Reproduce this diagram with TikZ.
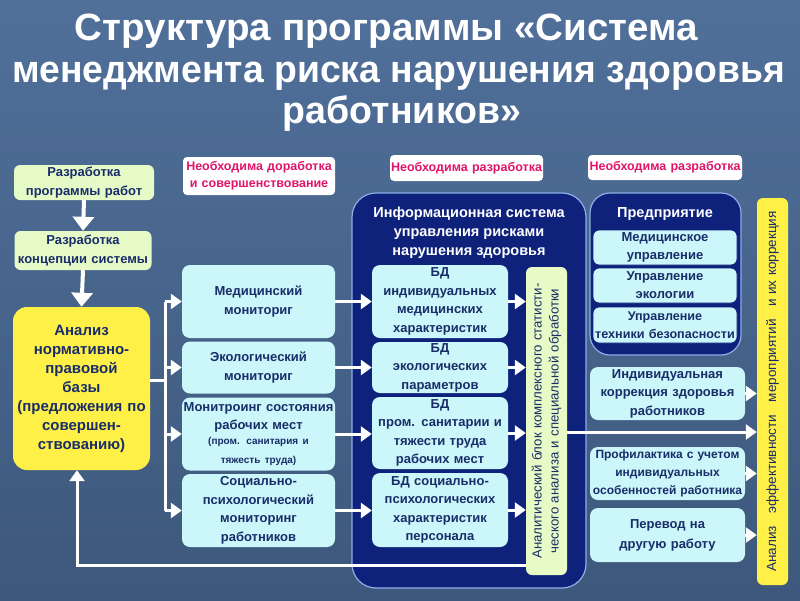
\documentclass[tikz,border=0pt]{standalone}
\usepackage{fontspec}
\setmainfont{Liberation Sans}
\usetikzlibrary{arrows.meta}
\definecolor{bgtop}{RGB}{80,112,154}
\definecolor{bgbot}{RGB}{62,88,124}
\definecolor{txt}{RGB}{25,45,105}
\definecolor{pinktxt}{RGB}{225,20,105}
\definecolor{cyanf}{RGB}{203,246,250}
\definecolor{greenf}{RGB}{230,250,200}
\definecolor{yellowf}{RGB}{255,240,72}
\definecolor{navyf}{RGB}{14,34,124}
\definecolor{navyl}{RGB}{140,175,230}
\definecolor{anf}{RGB}{232,250,198}
\newcommand\fitw[2]{\resizebox{#1}{\height}{#2}}
\newcommand\fs[2]{\fontsize{#1}{#2}\selectfont}
\begin{document}
\begin{tikzpicture}[x=1pt,y=-1pt,
  sz/.style 2 args={minimum width=#1pt, minimum height=#2pt, text width=#1pt, inner xsep=0pt, inner ysep=0pt, align=center},
  ttl/.style={font=\fs{38}{44}\bfseries, text=white, inner sep=0pt},
  lbl/.style={fill=white, text=pinktxt, rounded corners=4pt, font=\fs{12.5}{17}\bfseries},
  greenbox/.style={fill=greenf, text=txt, rounded corners=6pt, font=\fs{13}{18.5}\bfseries},
  yellowbox/.style={fill=yellowf, text=txt, rounded corners=14pt, font=\fs{15}{19}\bfseries},
  cyanbox/.style={fill=cyanf, text=txt, rounded corners=8pt, font=\fs{13}{18.5}\bfseries},
  subbox/.style={fill=cyanf, draw=navyf, line width=0.8pt, text=txt, rounded corners=6pt, font=\fs{13}{18}\bfseries},
  navybox/.style={fill=navyf, draw=navyl, line width=1.2pt, rounded corners=24pt},
  navytitle/.style={text=white, font=\fs{14.5}{19}\bfseries, align=center, inner sep=0pt},
  anbox/.style={fill=anf, rounded corners=6pt, text=txt, font=\fs{13.2}{17}},
  effbox/.style={fill=yellowf, rounded corners=6pt, text=txt, font=\fs{13.5}{16}},
  wline/.style={draw=white, line width=3pt},
  warr/.style={draw=white, line width=3pt, -{Triangle[length=11pt,width=15pt]}},
  bigarr/.style={draw=white, line width=4pt, -{Triangle[length=14pt,width=21pt]}}
]
\useasboundingbox (0,0) rectangle (800,600);
\fill[top color=bgtop, bottom color=bgbot] (0,0) rectangle (800,600);

% title
\node[ttl, anchor=base] (t1) at (386.5,40) {\fitw{623pt}{Структура программы «Система}};
\node[ttl, anchor=base] (t2) at (398.5,82) {\fitw{773pt}{менеджмента риска нарушения здоровья}};
\node[ttl, anchor=base] (t3) at (402,123) {\fitw{238pt}{работников»}};

% labels
\node[lbl, sz={152}{38}] (lab1) at (259,176) {Необходима доработка\\и совершенствование};
\node[lbl, sz={153}{26}] (lab2) at (466.5,168) {Необходима разработка};
\node[lbl, sz={154}{25}] (lab3) at (665,167.5) {Необходима разработка};

% left column
\node[greenbox, sz={140}{35}] (prog) at (84,182.5) {Разработка\\программы работ};
\node[greenbox, sz={137}{39}] (conc) at (83,250.5) {Разработка\\концепции системы};
\node[yellowbox, sz={137}{163}] (anal) at (81.5,388.5) {Анализ\\нормативно-\\правовой\\базы\\(предложения по\\совершен-\\ствованию)};

% monitoring
\node[cyanbox, sz={153}{73}] (mon1) at (258.5,301.5) {Медицинский\\мониториг};
\node[cyanbox, sz={153}{52}] (mon2) at (258.5,367.5) {Экологический\\мониториг};
\node[cyanbox, sz={153}{73}] (mon3) at (258.5,434) {Монитроинг состояния\\рабочих мест\\{\fs{10}{15}(пром. санитария и\\тяжесть труда)}};
\node[cyanbox, sz={153}{73}] (mon4) at (258.5,510.5) {Социально-\\психологический\\мониторинг\\работников};

% information system
\node[navybox, minimum width=234pt, minimum height=395pt, inner sep=0pt] (info) at (469,390.5) {};
\node[navytitle] (infot) at (469,233) {Информационная система\\управления рисками\\нарушения здоровья};
\node[cyanbox, sz={136}{73}] (bd1) at (440,301.5) {БД\\индивидуальных\\медицинских\\характеристик};
\node[cyanbox, sz={136}{51}] (bd2) at (440,367.5) {БД\\экологических\\параметров};
\node[cyanbox, sz={136}{72}] (bd3) at (440,433) {БД\\пром. санитарии и\\тяжести труда\\рабочих мест};
\node[cyanbox, sz={136}{74}] (bd4) at (440,510) {БД социально-\\психологических\\характеристик\\персонала};
\node[anbox, rotate=90, sz={308}{41}] (an) at (546.5,421) {Аналитический блок комплексного статисти-\\ческого анализа и специальной обработки};

% enterprise
\node[navybox, minimum width=151pt, minimum height=162pt, inner sep=0pt, rounded corners=20pt] (ent) at (665.5,274) {};
\node[navytitle] (entt) at (665,214) {Предприятие};
\node[subbox, sz={144}{35}] (e1) at (665,247.5) {Медицинское\\управление};
\node[subbox, sz={144}{35}] (e2) at (665,285.5) {Управление\\экологии};
\node[subbox, sz={144}{36}, font=\fs{12.6}{18}\bfseries] (e3) at (665,325) {Управление\\\makebox[144pt]{техники безопасности}};

% right column
\node[cyanbox, sz={155}{53}] (r1) at (667.5,393.5) {Индивидуальная\\коррекция здоровья\\работников};
\node[cyanbox, sz={155}{53}, font=\fs{12}{18}\bfseries] (r2) at (667.5,473.5) {Профилактика с учетом\\индивидуальных\\особенностей работника};
\node[cyanbox, sz={155}{54}, font=\fs{13}{20}\bfseries] (r3) at (667.5,535) {Перевод на\\другую работу};
\node[effbox, rotate=90, sz={387}{31}] (eff) at (772.5,391.5) {Анализ\hspace{8pt} эффективности\hspace{8pt} мероприятий\hspace{8pt} и их коррекция};

% connectors
\draw[bigarr] (prog.south) -- (conc.north);
\draw[bigarr] (conc.south) -- (anal.north);
\coordinate (jn) at (165,380);
\draw[wline] (anal.east |- jn) -- (jn);
\draw[wline] (jn |- mon1.west) -- (jn |- mon4.west);
\foreach \m in {mon1,mon2,mon3,mon4} \draw[warr] (jn |- \m.west) -- (\m.west);
\foreach \m/\b in {mon1/bd1,mon2/bd2,mon3/bd3,mon4/bd4} \draw[warr] (\m.east) -- (\m.east -| \b.west);
\foreach \b in {bd1,bd2,bd3,bd4} \draw[warr] (\b.east) -- (\b.east -| an.north);
\draw[warr] ([yshift=-11pt]an.south) coordinate (ae) -- (ae -| eff.north);
\foreach \r in {r1,r2,r3} \draw[warr] (\r.east) -- (\r.east -| eff.north);
\draw[warr] ([yshift=-144pt]an.north) -| ([xshift=-4.5pt]anal.south);
\end{tikzpicture}
\end{document}
